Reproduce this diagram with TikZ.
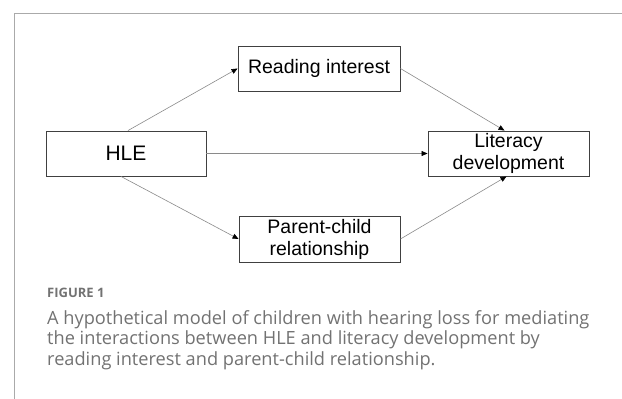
\documentclass[tikz,border=0pt]{standalone}
\usepackage{fontspec}
\setmainfont{Liberation Sans}
\newfontfamily\capfont{Open Sans}
\usetikzlibrary{arrows.meta,calc}
\definecolor{framegray}{HTML}{AAAAAA}
\definecolor{linegray}{HTML}{8A8A8A}
\definecolor{boxgray}{HTML}{404040}
\definecolor{capgray}{HTML}{727272}
\tikzset{
  box/.style={draw=boxgray,line width=0.9pt,fill=white,inner sep=0pt,align=center,font=\fontsize{19.5}{22}\selectfont,text=black},
  link/.style={draw=linegray,line width=0.6pt,-{Triangle[length=6pt,width=5pt,fill=black,color=black]}},
}
\begin{document}
\begin{tikzpicture}[x=1pt,y=-1pt]
\useasboundingbox (0,0) rectangle (622,399);
\draw[framegray,line width=1pt] (14,399) -- (14,13) -- (622,13);
\node[box,minimum width=160pt,minimum height=45pt,font=\fontsize{21}{24}\selectfont] (hle) at (126,153.5) {HLE};
\node[box,minimum width=162pt,minimum height=45pt] (ri) at (319,68.5) {Reading interest};
\node[box,minimum width=161pt,minimum height=45pt] (ld) at (508.5,153.5) {Literacy\\development};
\node[box,minimum width=161pt,minimum height=46pt] (pc) at (319.5,239) {Parent-child\\relationship};
\draw[link] ($(hle.north)+(2,0)$) -- (ri.west);
\draw[link] (ri.east) -- ($(ld.north)+(-4,0)$);
\draw[link] (hle.east) -- (ld.west);
\draw[link] ($(hle.south)+(-5,0)$) -- (pc.west);
\draw[link] (pc.east) -- ($(ld.south)+(-2,0)$);
\node[anchor=base west,inner sep=0pt,text=capgray,font=\capfont\bfseries\fontsize{13}{15}\selectfont] (fig) at (47,297) {FIGURE 1};
\node[anchor=base west,inner sep=0pt,text=capgray,font=\capfont\fontsize{18.2}{20.5}\selectfont,align=left] (cap) at (47,365) {A hypothetical model of children with hearing loss for mediating\\the interactions between HLE and literacy development by\\reading interest and parent-child relationship.};
\end{tikzpicture}
\end{document}
